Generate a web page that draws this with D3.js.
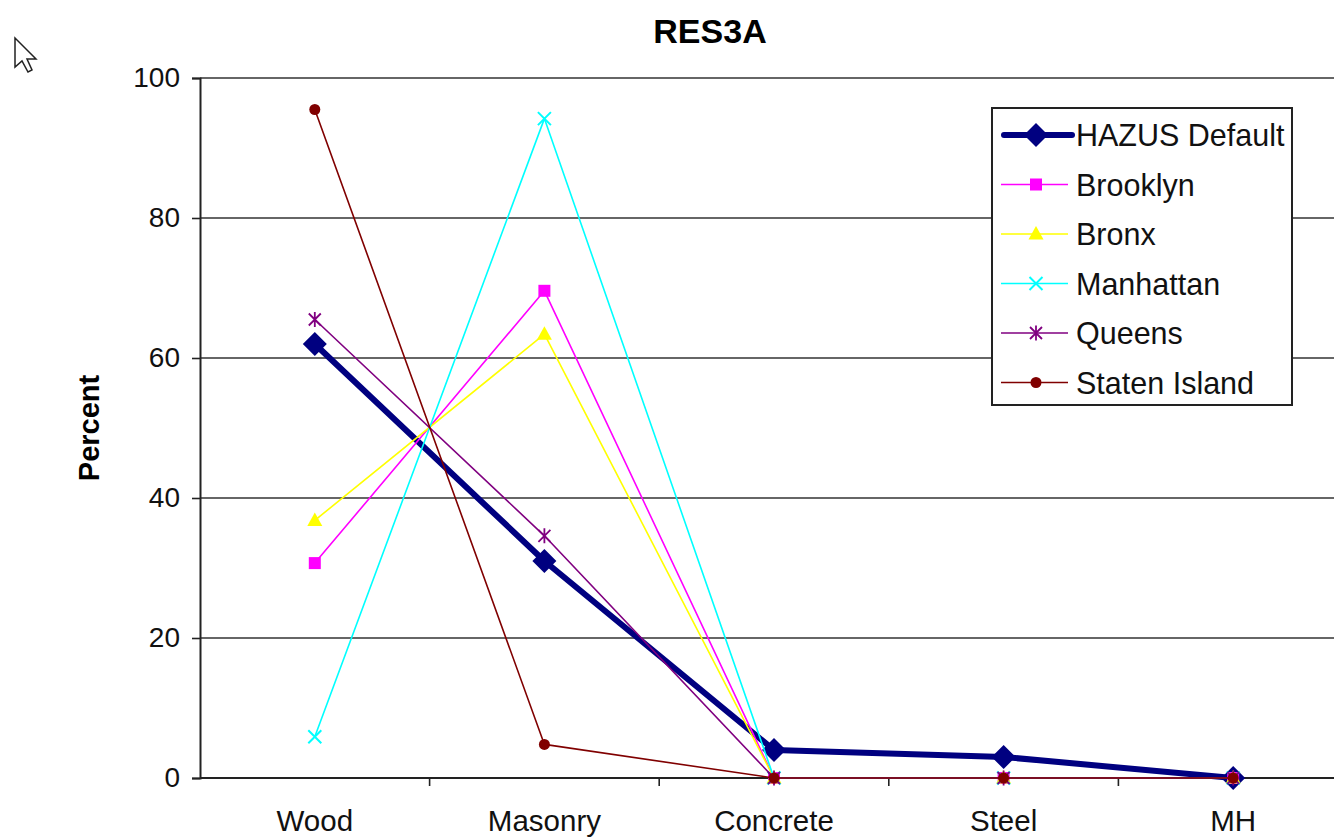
<!DOCTYPE html>
<html>
<head>
<meta charset="utf-8">
<script src="https://cdn.jsdelivr.net/npm/d3@7"></script>
<style>
  body { margin: 0; background: #fff; }
  text { font-family: "Liberation Sans", Arial, sans-serif; }
</style>
</head>
<body>
<svg id="chart" width="1334" height="840"></svg>
<script>
// data
const categories = ["Wood", "Masonry", "Concrete", "Steel", "MH"];
const hazusDefault = [62, 31, 4, 3, 0];
const brooklyn = [30.7, 69.6, 0, 0, 0];
const bronx = [36.8, 63.4, 0, 0, 0];
const manhattan = [5.9, 94.2, 0, 0, 0];
const queens = [65.5, 34.6, 0, 0, 0];
const statenIsland = [95.5, 4.8, 0, 0, 0];
const yTicks = [0, 20, 40, 60, 80, 100];

const seriesNames = ["HAZUS Default", "Brooklyn", "Bronx", "Manhattan", "Queens", "Staten Island"];
const seriesValues = [hazusDefault, brooklyn, bronx, manhattan, queens, statenIsland];
const seriesColors = ["#000080", "#ff00ff", "#ffff00", "#00ffff", "#800080", "#800000"];
const seriesSymbols = ["diamond", "square", "triangle", "x", "star", "circle"];

const margin = {left: 200, right: -14, top: 78, bottom: 62};
const width = 1334;
const height = 840;

const svg = d3.select("#chart");

let xScale = d3.scaleBand(categories, [margin.left, width - margin.right]);
let yScale = d3.scaleLinear([0, 100], [height - margin.bottom, margin.top]);

// gridlines
svg.append("g")
  .selectAll("line")
  .data(yTicks.filter(d => d > 0))
  .join("line")
  .attr("x1", margin.left).attr("x2", width)
  .attr("y1", d => yScale(d)).attr("y2", d => yScale(d))
  .attr("stroke", "#333").attr("stroke-width", 1.6);

// y axis
let yAxis = d3.axisLeft(yScale).tickValues(yTicks).tickSize(8).tickPadding(12);
let gy = svg.append("g")
  .attr("transform", `translate(${margin.left},0)`)
  .call(yAxis);
gy.select(".domain").attr("stroke", "#222").attr("stroke-width", 2);
gy.selectAll(".tick line").attr("stroke", "#222").attr("stroke-width", 1.6);
gy.selectAll(".tick text").attr("font-size", 28).attr("fill", "#111")
  .attr("font-family", "Liberation Sans, Arial, sans-serif");

// x axis
let xAxis = d3.axisBottom(xScale).tickSize(0).tickPadding(32);
let gx = svg.append("g")
  .attr("transform", `translate(0,${yScale(0)})`)
  .call(xAxis);
gx.select(".domain").remove();
gx.selectAll(".tick text").attr("font-size", 29.5).attr("fill", "#111")
  .attr("font-family", "Liberation Sans, Arial, sans-serif");
svg.append("line")
  .attr("x1", margin.left).attr("x2", width)
  .attr("y1", yScale(0)).attr("y2", yScale(0))
  .attr("stroke", "#222").attr("stroke-width", 2);
// tick marks between categories
svg.append("g")
  .selectAll("line")
  .data(categories.slice(1))
  .join("line")
  .attr("x1", d => xScale(d)).attr("x2", d => xScale(d))
  .attr("y1", yScale(0)).attr("y2", yScale(0) + 8)
  .attr("stroke", "#222").attr("stroke-width", 1.6);

// symbols
function drawSymbol(g, type, color, size) {
  if (type === "diamond") {
    g.append("path").attr("d", `M0,${-size}L${size},0L0,${size}L${-size},0Z`).attr("fill", color);
  } else if (type === "square") {
    g.append("rect").attr("x", -size * 0.6).attr("y", -size * 0.6)
      .attr("width", size * 1.2).attr("height", size * 1.2).attr("fill", color);
  } else if (type === "triangle") {
    g.append("path").attr("d", `M0,${-size * 0.8}L${size * 0.75},${size * 0.55}L${-size * 0.75},${size * 0.55}Z`).attr("fill", color);
  } else if (type === "x") {
    g.append("path").attr("d", `M${-size * 0.65},${-size * 0.65}L${size * 0.65},${size * 0.65}M${size * 0.65},${-size * 0.65}L${-size * 0.65},${size * 0.65}`)
      .attr("stroke", color).attr("stroke-width", 2);
  } else if (type === "star") {
    g.append("path").attr("d", `M${-size * 0.6},${-size * 0.6}L${size * 0.6},${size * 0.6}M${size * 0.6},${-size * 0.6}L${-size * 0.6},${size * 0.6}M0,${-size * 0.75}L0,${size * 0.75}`)
      .attr("stroke", color).attr("stroke-width", 1.8);
  } else {
    g.append("circle").attr("r", size * 0.55).attr("fill", color);
  }
}

let line = d3.line()
  .x((d, i) => xScale(categories[i]) + xScale.bandwidth() / 2)
  .y(d => yScale(d));

seriesNames.forEach((name, si) => {
  let vals = seriesValues[si];
  let isMain = si === 0;
  svg.append("path")
    .datum(vals)
    .attr("d", line)
    .attr("fill", "none")
    .attr("stroke", seriesColors[si])
    .attr("stroke-width", isMain ? 6 : 1.6)
    .attr("stroke-linejoin", "round");
  vals.forEach((v, i) => {
    let g = svg.append("g")
      .attr("transform", `translate(${xScale(categories[i]) + xScale.bandwidth() / 2},${yScale(v)})`);
    drawSymbol(g, seriesSymbols[si], seriesColors[si], isMain ? 12 : 10);
  });
});

// legend
let legend = svg.append("g").attr("transform", "translate(992,108)");
legend.append("rect")
  .attr("width", 300).attr("height", 297)
  .attr("fill", "#fff").attr("stroke", "#222").attr("stroke-width", 2);
seriesNames.forEach((name, si) => {
  let y = 27 + si * 49.5;
  legend.append("line")
    .attr("x1", si === 0 ? 12 : 9).attr("x2", si === 0 ? 80 : 76)
    .attr("y1", y).attr("y2", y)
    .attr("stroke", seriesColors[si])
    .attr("stroke-width", si === 0 ? 6 : 1.6)
    .attr("stroke-linecap", si === 0 ? "round" : "butt");
  let g = legend.append("g").attr("transform", `translate(44,${y})`);
  drawSymbol(g, seriesSymbols[si], seriesColors[si], si === 0 ? 12 : 10);
  legend.append("text")
    .attr("x", 84).attr("y", y + 11)
    .attr("font-size", 30.5).attr("fill", "#111")
    .text(name);
});

// title
svg.append("text")
  .attr("x", 710).attr("y", 43)
  .attr("text-anchor", "middle")
  .attr("font-size", 34).attr("font-weight", "bold")
  .text("RES3A");

svg.append("text")
  .attr("transform", `translate(99,${(yScale(0) + yScale(100)) / 2}) rotate(-90)`)
  .attr("text-anchor", "middle")
  .attr("font-size", 29).attr("font-weight", "bold")
  .text("Percent");

// mouse pointer in the corner of the screenshot
svg.append("path")
  .attr("d", "M15,38L15,67L22,61L28,72L32,70L27,59L36,59Z")
  .attr("fill", "#fff").attr("stroke", "#222").attr("stroke-width", 1.5);
</script>
</body>
</html>
